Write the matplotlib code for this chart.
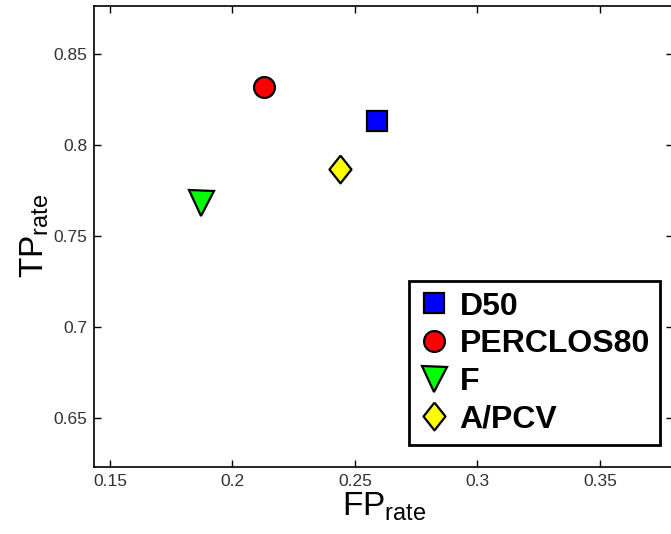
import matplotlib
matplotlib.use("Agg")
import matplotlib.pyplot as plt

plt.rcParams['font.family'] = ['Liberation Sans', 'DejaVu Sans']
plt.rcParams['mathtext.fontset'] = 'custom'
plt.rcParams['mathtext.rm'] = 'Liberation Sans'

# data
names = ['D50', 'PERCLOS80', 'F', 'A/PCV']
fp_rate = [0.259, 0.213, 0.187, 0.244]
tp_rate = [0.813, 0.832, 0.768, 0.787]
colours = ['#0000ff', '#ff0000', '#00ff00', '#ffff00']
diamond = [(0, 1.2), (0.95, 0), (0, -1.2), (-0.95, 0), (0, 1.2)]
markers = ['s', 'o', 'v', diamond]
sizes = [14, 15, 18, 20]

xticks = [0.15, 0.2, 0.25, 0.3, 0.35]
yticks = [0.65, 0.7, 0.75, 0.8, 0.85]

fig = plt.figure(figsize=(6.71, 5.34), dpi=100)
ax = fig.add_axes([0.1405, 0.126, 0.863, 0.8628])

for i in range(len(names)):
    ax.plot(fp_rate[i], tp_rate[i], linestyle='none', marker=markers[i],
            markersize=sizes[i], markerfacecolor=colours[i],
            markeredgecolor='k', markeredgewidth=1.6, label=names[i])

ax.set_xlim(0.1436, 0.38)
ax.set_ylim(0.6232, 0.8764)
ax.set_xticks(xticks)
ax.set_xticklabels([str(t) for t in xticks])
ax.set_yticks(yticks)
ax.set_yticklabels([str(t) for t in yticks])
ax.tick_params(direction='in', length=5, width=1, top=True, right=True,
               labelsize=12.5, labelcolor='#333333', pad=5)
for s in ax.spines.values():
    s.set_linewidth(1.2)

ax.set_xlabel(r'FP$_{\mathrm{rate}}$', fontsize=24, labelpad=1)
ax.set_ylabel(r'TP$_{\mathrm{rate}}$', fontsize=24, labelpad=2)

leg = ax.legend(loc='upper left', bbox_to_anchor=(409 / 671, 1 - 281 / 534),
                bbox_transform=fig.transFigure, fancybox=False, framealpha=1,
                edgecolor='k', borderaxespad=0, borderpad=0.33,
                labelspacing=0.24, handlelength=0.9, handletextpad=0.35,
                prop={'size': 23, 'weight': 'bold'})
leg.get_frame().set_linewidth(2)

fig.savefig('out.png', dpi=100)
plt.close(fig)
